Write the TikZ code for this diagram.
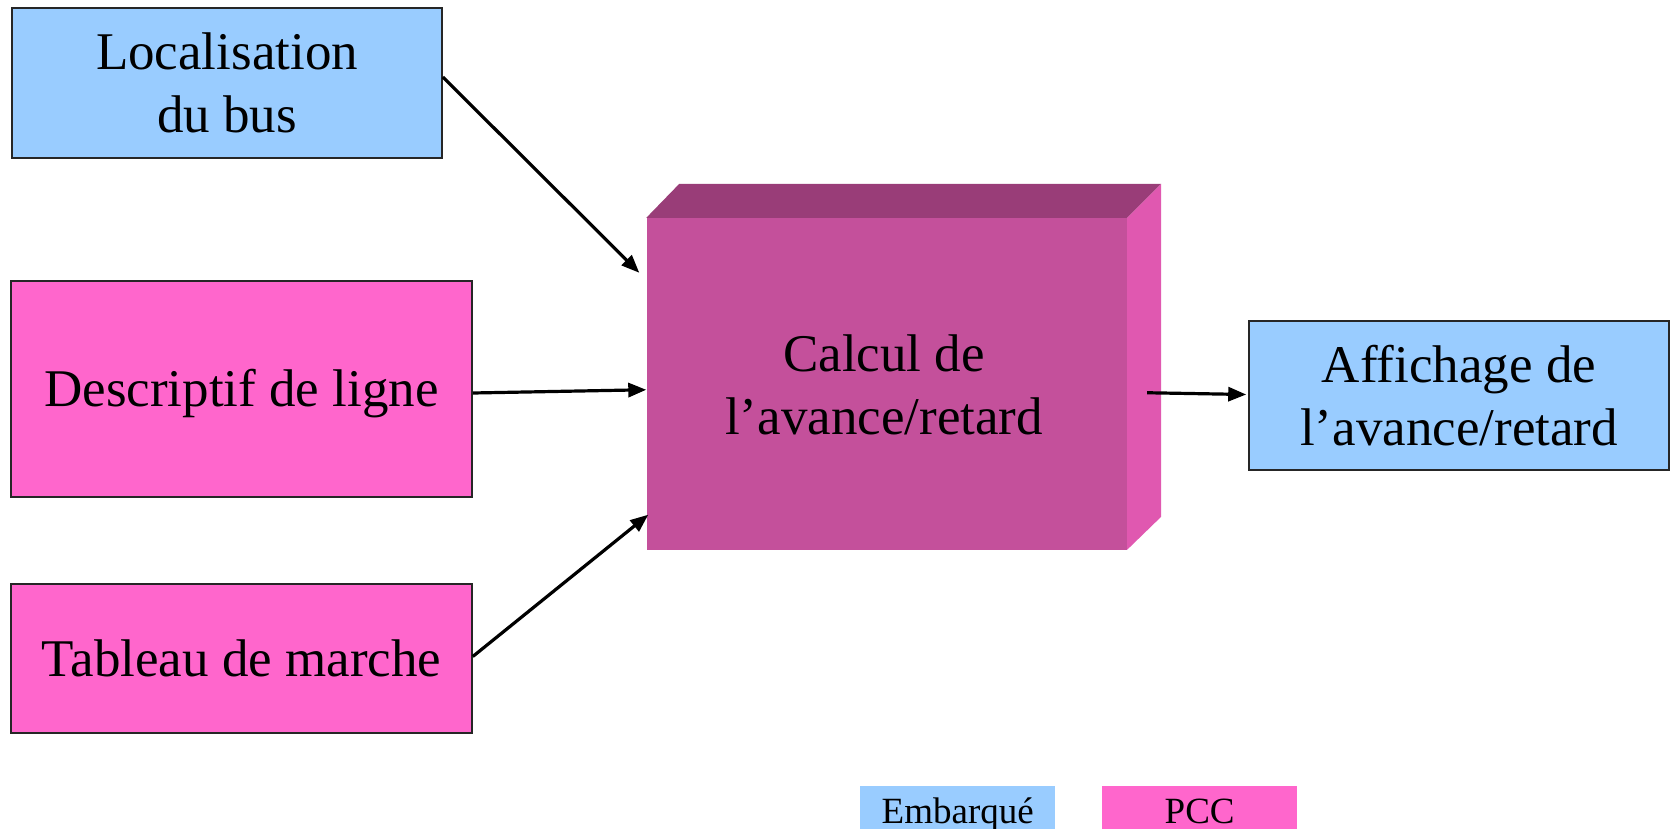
\documentclass[tikz,border=0pt]{standalone}
\usepackage{fontspec}
\setmainfont{Liberation Serif}
\usetikzlibrary{arrows.meta,calc}

\definecolor{embblue}{RGB}{153,204,255}
\definecolor{pccpink}{RGB}{255,102,204}
\definecolor{calcfront}{RGB}{196,80,155}
\definecolor{calctop}{RGB}{153,61,120}
\definecolor{calcside}{RGB}{224,88,176}

\tikzset{
  block/.style={draw=black!85, line width=1.6pt, align=center, inner sep=0pt,
                font=\fontsize{53}{63}\selectfont},
  embbox/.style={block, fill=embblue},
  pccbox/.style={block, fill=pccpink},
  legendbox/.style={inner sep=0pt, font=\fontsize{37}{44}\selectfont,
                    minimum width=195pt, minimum height=46pt},
  flow/.style={line width=3.2pt, -{Triangle[length=18pt,width=14pt]}},
}

\begin{document}
\begin{tikzpicture}[x=1pt,y=-1pt]
\useasboundingbox (0,0) rectangle (1670,829);

% source blocks on the left
\node[embbox, minimum width=430pt, minimum height=150pt] (loc) at (227,83)
  {Localisation\\du bus};
\node[pccbox, minimum width=461pt, minimum height=216pt] (desc) at (241.5,389)
  {\raisebox{-5pt}[\height][\depth]{Descriptif de ligne}};
\node[pccbox, minimum width=461pt, minimum height=149pt] (tab) at (241.5,658.5)
  {Tableau de marche};

% central processing block drawn as a box in perspective
\node[fill=calcfront, minimum width=480.5pt, minimum height=331.5pt, inner sep=0pt]
  (calc) at (886.75,383.75) {};
\fill[calctop] (calc.north west) -- ($(calc.north west)+(33,-34)$)
  -- ($(calc.north east)+(34,-34)$) -- (calc.north east) -- cycle;
\fill[calcside] (calc.north east) -- ($(calc.north east)+(34,-34)$)
  -- ($(calc.south east)+(34,-33)$) -- (calc.south east) -- cycle;
\node[align=center, font=\fontsize{53}{63}\selectfont] (calctext) at (884,385)
  {Calcul de\\l’avance/retard};

% output block
\node[embbox, minimum width=420pt, minimum height=149pt] (aff) at (1459,395.5)
  {Affichage de\\l’avance/retard};

% connectors
\draw[flow] ($(loc.east)+(0,-6)$) -- ($(calc.north west)+(-7,55)$);
\draw[flow] ($(desc.east)+(0,4)$) -- ($(calc.west)+(0,6)$);
\draw[flow] ($(tab.east)+(0,-2)$) -- ($(calc.south west)+(2,-35)$);
\draw[flow] ($(calc.east)+(20,9)$) -- ($(aff.west)+(-2,-1)$);

% legend
\node[legendbox, fill=embblue, anchor=north west] (legemb) at (860,786) {};
\node[font=\fontsize{37}{44}\selectfont, anchor=base] (legembt) at (legemb.north |- 0,823) {Embarqué};
\node[legendbox, fill=pccpink, anchor=north west] (legpcc) at (1102,786) {};
\node[font=\fontsize{37}{44}\selectfont, anchor=base] (legpcct) at (legpcc.north |- 0,823) {PCC};
\end{tikzpicture}
\end{document}
